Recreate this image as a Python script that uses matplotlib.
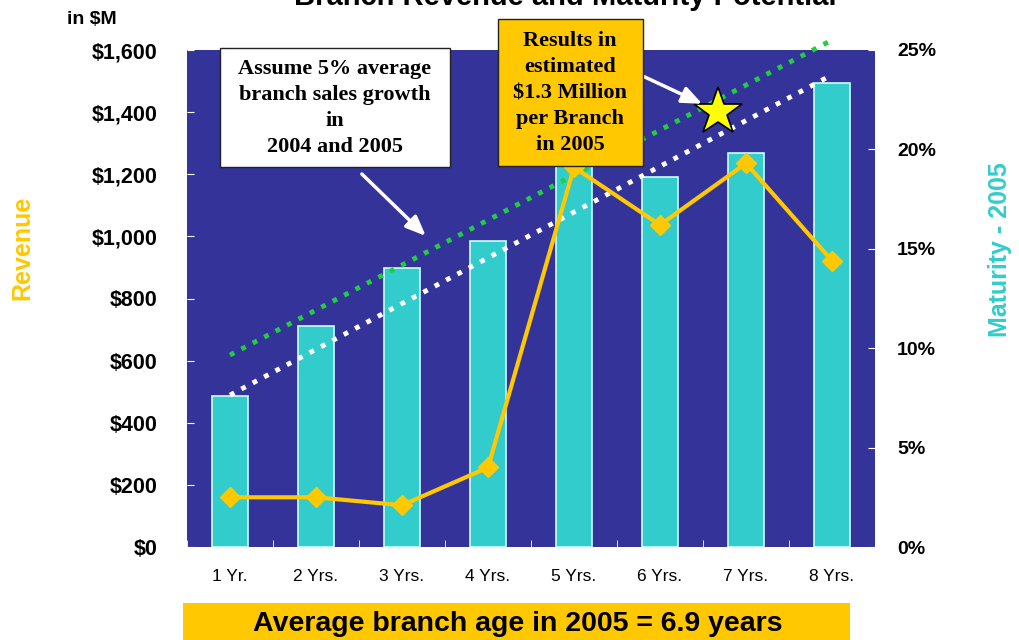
import numpy as np
from matplotlib import pyplot as plt
from matplotlib.patches import Rectangle

# data
ages = ['1 Yr.', '2 Yrs.', '3 Yrs.', '4 Yrs.', '5 Yrs.', '6 Yrs.', '7 Yrs.', '8 Yrs.']
revenue = [485, 711, 898, 985, 1235, 1191, 1268, 1494]          # $M, bars
maturity = [2.5, 2.5, 2.1, 4.0, 19.1, 16.2, 19.3, 14.4]          # %, line
trend_green = [618, 1632]    # growth line, first and last age
trend_white = [489, 1520]
star_pos = (5.67, 1400)
rev_ticks = [0, 200, 400, 600, 800, 1000, 1200, 1400, 1600]
mat_ticks = [0, 5, 10, 15, 20, 25]

BLUE = '#333399'
TEAL = '#33CCCC'
GOLD = '#FFC800'
W, H = 1020, 640

fig = plt.figure(figsize=(10.2, 6.4), dpi=100)
ax = fig.add_axes([187 / W, 1 - 547 / H, 688 / W, 497 / H])
ax.set_facecolor(BLUE)
x = np.arange(len(ages))

ax.bar(x, revenue, width=0.42, color=TEAL, edgecolor='#CCFFFF', linewidth=1.2, zorder=2)
ax.plot([x[0], x[-1]], trend_green, ls=':', lw=3.5, color='#22CC44', zorder=3, clip_on=False)
ax.plot([x[0], x[-1]], trend_white, ls=':', lw=3.5, color='white', zorder=3, clip_on=False)
ax.set_xlim(-0.5, 7.5)
ax.set_ylim(0, 1600)
ax.set_yticks(rev_ticks)
ax.set_yticklabels(['${:,}'.format(v) for v in rev_ticks], fontsize=15.5,
                   fontweight='bold', family='Liberation Sans')
ax.set_xticks(x)
ax.set_xticklabels(ages, fontsize=12.5, family='Liberation Sans')
ax.set_xticks(np.arange(-0.5, 8), minor=True)
ax.tick_params(axis='x', which='major', length=0, pad=16)
ax.tick_params(axis='x', which='minor', direction='in', length=5, color='white')
ax.tick_params(axis='y', direction='in', length=5, color='white', pad=21)
for s in ax.spines.values():
    s.set_visible(False)

ax2 = ax.twinx()
ax2.plot(x, maturity, color=GOLD, lw=3, marker='D', ms=10, zorder=4)
ax2.set_ylim(0, 25)
ax2.set_yticks(mat_ticks)
ax2.set_yticklabels(['{}%'.format(v) for v in mat_ticks], fontsize=14,
                    fontweight='bold', family='Liberation Sans')
ax2.tick_params(axis='y', direction='in', length=5, color='white', pad=16)
for s in ax2.spines.values():
    s.set_visible(False)

ax.plot(*star_pos, marker='*', ms=36, color='#FFFF00', mec='black', mew=1.2,
        zorder=6, clip_on=False)

# annotations
ax.annotate('', xy=(2.30, 995), xytext=(1.51, 1207),
            arrowprops=dict(arrowstyle='-|>,head_length=1.2,head_width=0.5',
                            color='white', lw=2.5), zorder=7)
ax.annotate('', xy=(5.52, 1423), xytext=(4.77, 1520),
            arrowprops=dict(arrowstyle='-|>,head_length=1.2,head_width=0.5',
                            color='white', lw=2.5), zorder=7)

def box(x0, y0, x1, y1, fc):
    # rectangle given in pixels from the top-left corner
    fig.add_artist(Rectangle((x0 / W, 1 - y1 / H), (x1 - x0) / W, (y1 - y0) / H,
                             transform=fig.transFigure, fc=fc, ec='#222222', lw=1,
                             zorder=8))

box(220, 48, 450, 167, 'white')
fig.text(335 / W, 1 - 108 / H,
         'Assume 5% average\nbranch sales growth\nin\n2004 and 2005',
         ha='center', va='center', fontsize=16, fontweight='bold',
         family='Liberation Serif', linespacing=1.38, zorder=9)
box(498, 19, 643, 166, GOLD)
fig.text(570 / W, 1 - 93 / H,
         'Results in\nestimated\n$1.3 Million\nper Branch\nin 2005',
         ha='center', va='center', fontsize=16, fontweight='bold',
         family='Liberation Serif', linespacing=1.4, zorder=9)

fig.add_artist(Rectangle((183 / W, 0), 667 / W, 37 / H,
                         transform=fig.transFigure, fc=GOLD, ec='none'))
fig.text(518 / W, 1 - 624 / H, 'Average branch age in 2005 = 6.9 years',
         ha='center', va='center', fontsize=20.5, fontweight='bold',
         family='Liberation Sans')
fig.text(565 / W, 1 - 5 / H, 'Branch Revenue and Maturity Potential',
         ha='center', va='baseline', fontsize=21, fontweight='bold',
         family='Liberation Sans')

fig.text(92 / W, 1 - 20 / H, 'in $M', ha='center', va='center',
         fontsize=14, fontweight='bold', family='Liberation Sans')
fig.text(22 / W, 1 - 248 / H, 'Revenue', rotation=90, ha='center', va='center',
         fontsize=18, fontweight='bold', color=GOLD, family='Liberation Sans')
fig.text(1000 / W, 1 - 250 / H, 'Maturity - 2005', rotation=90, ha='center',
         va='center', fontsize=18, fontweight='bold', color=TEAL, family='Liberation Sans')

fig.savefig('out.png', dpi=100)
